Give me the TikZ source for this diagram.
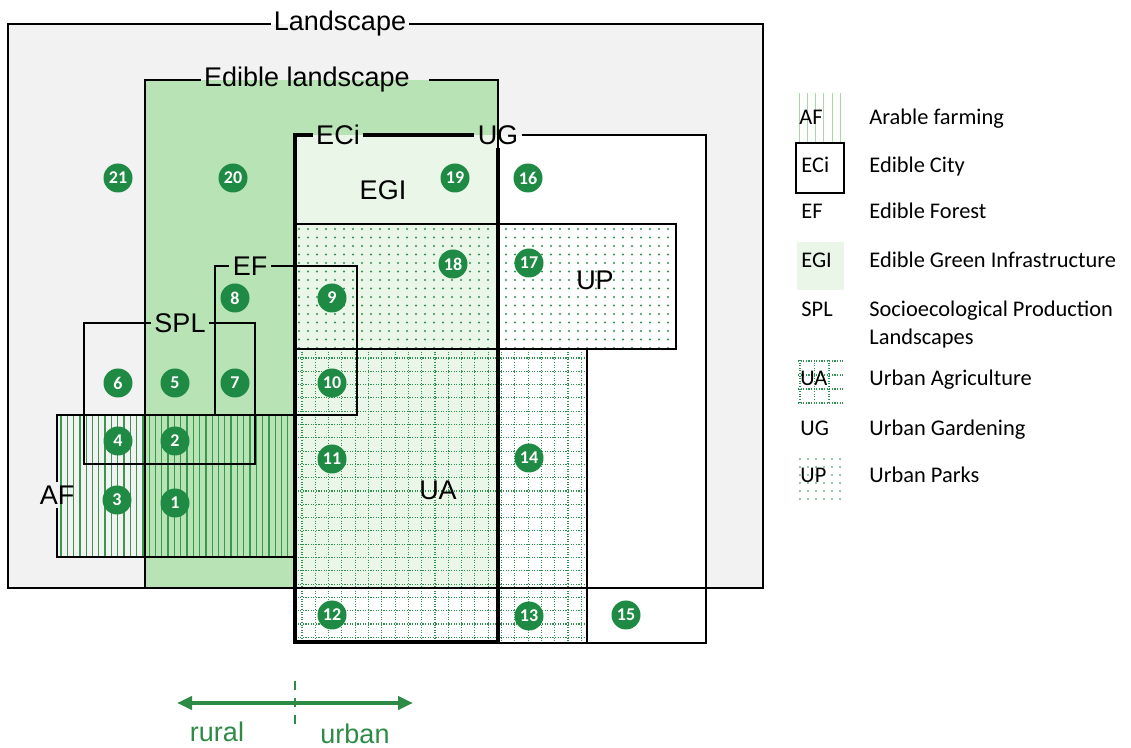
\documentclass[tikz,border=0pt]{standalone}
\usepackage{fontspec}
\setmainfont{Liberation Sans}
\newfontfamily\legendfont{Carlito}
\usetikzlibrary{arrows.meta, positioning, calc}
\definecolor{landgray}   {HTML}{F2F2F2}
\definecolor{ediblegreen}{HTML}{B8E3B4}
\definecolor{egigreen}   {HTML}{EAF6E7}
\definecolor{zonegreen}  {HTML}{1F8A44}
\definecolor{hatchgreen} {HTML}{3A974E}
\definecolor{dotgreen}   {HTML}{2F9152}
\definecolor{swatchgreen}{HTML}{A9D9A3}
\definecolor{axisgreen}  {HTML}{2E8B46}

\begin{document}
\begin{tikzpicture}[
  % one unit is one pixel of the 1131 x 748 sheet, y running down
  x=0.5pt, y=-0.5pt,
  zone/.style={circle, fill=zonegreen, text=white, minimum size=14.5pt,
               inner sep=0pt, font=\legendfont\bfseries\fontsize{9}{9}\selectfont},
  boxlabel/.style={font=\fontsize{13.5}{13.5}\selectfont, inner sep=1.5pt},
  edge/.style={line width=0.75pt},
  citywall/.style={line width=2pt},
  hatch/.style={hatchgreen, line width=0.65pt},
  gridline/.style={dotgreen, line width=0.55pt, dash pattern=on 0.55pt off 0.75pt},
  legabbr/.style={anchor=base west, font=\legendfont\fontsize{11.2}{14}\selectfont, inner sep=0pt},
  legtext/.style={anchor=base west, font=\legendfont\fontsize{11.2}{14}\selectfont,
                  inner sep=0pt, align=left},
  flowarrow/.style={{Triangle[length=7.5pt,width=6.5pt]}-{Triangle[length=7.5pt,width=6.5pt]},
                    line width=2.2pt, color=axisgreen},
  divider/.style={axisgreen, line width=1.2pt, dash pattern=on 4.5pt off 4pt},
  axislabel/.style={anchor=base, text=axisgreen, font=\fontsize{13.5}{13.5}\selectfont, inner sep=0pt}
]
\useasboundingbox (0,0) rectangle (1131,748);

% --- area fills, back to front -----------------------------------------------
\fill[landgray]    (8,24)    rectangle (763,588);
\fill[ediblegreen] (145,80)  rectangle (498,588);
\fill[egigreen]    (295,135) rectangle (498,588);
\fill[white]       (498,136) rectangle (706,643);

% --- UP: dot screen ----------------------------------------------------------
\begin{scope}
  \clip (295,224) rectangle (676,349);
  \foreach \x in {299,308,...,676}
    \foreach \y in {229,237.5,...,349}
      \fill[dotgreen] (\x,\y) circle (0.55pt);
\end{scope}

% --- UA: dotted grid ---------------------------------------------------------
\begin{scope}
  \clip (295,349) rectangle (587,643);
  \foreach \x in {302,315.3,...,587} \draw[gridline] (\x,349) -- (\x,643);
  \foreach \y in {358,371.3,...,643} \draw[gridline] (295,\y) -- (587,\y);
\end{scope}

% --- AF: vertical hatching ---------------------------------------------------
\foreach \x in {61,67.3,...,292} \draw[hatch] (\x,415) -- (\x,557);

% --- outlines with their titles ----------------------------------------------
\node[boxlabel] (landlbl) at (340,24) {Landscape};
\draw[edge] (landlbl.east) -| (763,588) -| (8,24) -- (landlbl.west);

\node[boxlabel] (edlbl) at (307,80) {Edible landscape};
\draw[edge] ([xshift=8pt]edlbl.east) -| (498,588) -| (145,80) -- (edlbl.west);

\node[boxlabel] (ecilbl) at (338,135) {ECi};
\node[boxlabel] (uglbl)  at (498,135) {UG};
\draw[edge] (uglbl.east) -| (706,643) -- (498,643);
\draw[citywall] (ecilbl.east) -- (uglbl.west);
\draw[citywall] (uglbl.south) -- (498,642) -- (295,642) -- (295,135) -- (ecilbl.west);

\draw[edge] (295,224) rectangle (676,349);
\draw[edge] (295,349) rectangle (587,643);

\node[boxlabel] (eflbl) at (250,266) {EF};
\draw[edge] (eflbl.east) -| (357,415) -| (215,266) -- (eflbl.west);

\node[boxlabel] (spllbl) at (180,323) {SPL};
\draw[edge] (spllbl.east) -| (255,464) -| (84,323) -- (spllbl.west);

\node[boxlabel] (aflbl) at (57,495) {AF};
\draw[edge] (aflbl.north) -- (57,415) -- (294,415) -- (294,557) -- (57,557) -- (aflbl.south);

\node[boxlabel] (egilbl) at (383,190) {EGI};
\node[boxlabel] (uplbl)  at (595,280) {UP};
\node[boxlabel] (ualbl)  at (438,490) {UA};

% --- numbered zones ----------------------------------------------------------
\foreach \n/\x/\y in {1/175/503, 2/175/441, 3/117/500, 4/118/441, 5/175/383,
                      6/118/383, 7/235/383, 8/235/298, 9/332/298, 10/332/383,
                      11/332/459, 12/332/615, 13/529/616, 14/529/458, 15/626/615,
                      16/528/178, 17/529/263, 18/453/264, 19/455/178, 20/233/178,
                      21/118/178}
  \node[zone] (z\n) at (\x,\y) {\n};

% --- legend ------------------------------------------------------------------
\foreach \x in {799,807.3,...,843} \draw[swatchgreen, line width=0.5pt] (\x,93) -- (\x,142);
\draw[line width=1.2pt] (796,143) rectangle (844,193);
\fill[egigreen] (797,242) rectangle (844,290);
\begin{scope}
  \clip (798,360) rectangle (843,404);
  \foreach \x in {800,814.5,...,843} \draw[gridline] (\x,360) -- (\x,404);
  \foreach \y in {361,375,...,404} \draw[gridline] (798,\y) -- (843,\y);
\end{scope}
\foreach \x in {800,808,...,843}
  \foreach \y in {459,467,...,503}
    \fill[dotgreen] (\x,\y) circle (0.45pt);

\node[legabbr] (legaf)  at (799,125) {AF};
\node[legabbr] (legeci) at (801,173) {ECi};
\node[legabbr] (legef)  at (801,219) {EF};
\node[legabbr] (legegi) at (801,268) {EGI};
\node[legabbr] (legspl) at (801,317) {SPL};
\node[legabbr] (legua)  at (800,386) {UA};
\node[legabbr] (legug)  at (800,436) {UG};
\node[legabbr] (legup)  at (800,483) {UP};

\node[legtext] (txtaf)  at (869,125) {Arable farming};
\node[legtext] (txteci) at (869,173) {Edible City};
\node[legtext] (txtef)  at (869,219) {Edible Forest};
\node[legtext] (txtegi) at (869,268) {Edible Green Infrastructure};
\node[legtext] (txtspl) at (869,345) {Socioecological Production\\Landscapes};
\node[legtext] (txtua)  at (869,386) {Urban Agriculture};
\node[legtext] (txtug)  at (869,436) {Urban Gardening};
\node[legtext] (txtup)  at (869,483) {Urban Parks};

% --- rural / urban axis ------------------------------------------------------
\coordinate (ruralend) at (177,703);
\coordinate (urbanend) at (413,703);
\coordinate (divtop)   at (295,681);
\coordinate (divbot)   at (295,724);
\draw[flowarrow] (ruralend) -- (urbanend);
\draw[divider] (divtop) -- (divbot);
\node[axislabel] (rurallbl) at (217,741) {rural};
\node[axislabel] (urbanlbl) at (355,743) {urban};

\end{tikzpicture}
\end{document}
